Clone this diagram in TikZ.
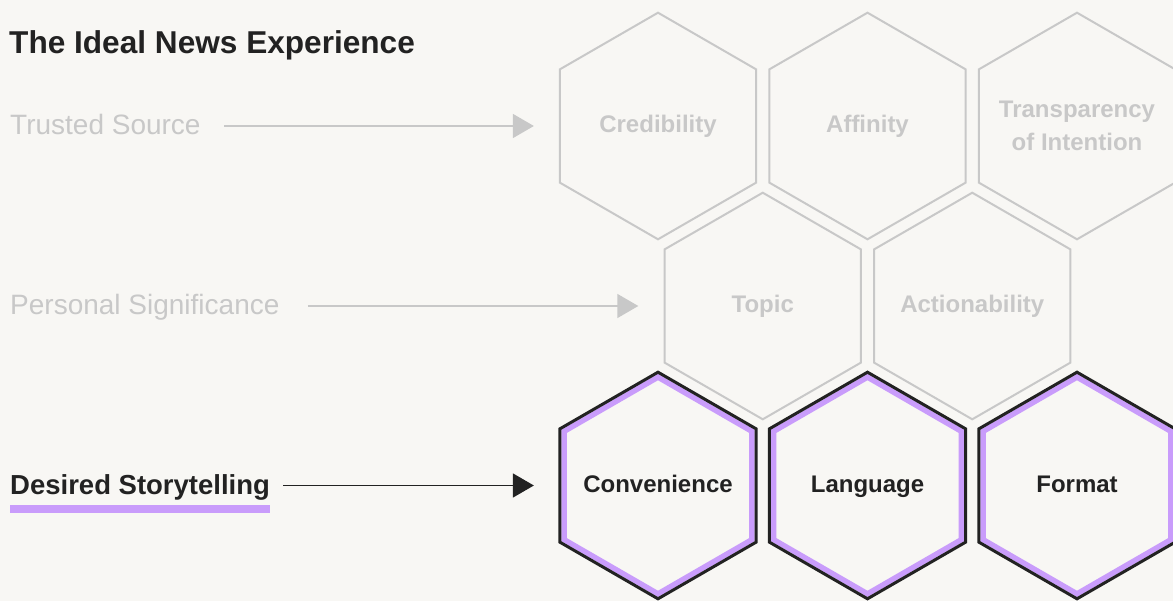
\documentclass[tikz,border=0pt]{standalone}
\usepackage{fontspec}
\setmainfont{Liberation Sans}
\usetikzlibrary{shapes.geometric,arrows.meta}
\definecolor{paper}{HTML}{F8F7F4}
\definecolor{faint}{HTML}{C8C8C8}
\definecolor{ink}{HTML}{222222}
\definecolor{lilac}{HTML}{C99CFB}
\begin{document}
\begin{tikzpicture}[x=1pt, y=-1pt,
  hex/.style={regular polygon, regular polygon sides=6, shape border rotate=30,
    minimum size=226.6pt, inner sep=0pt, outer sep=0pt},
  faded/.style={hex, draw=faint, line width=2pt},
  picked/.style={hex, draw=ink, line width=3pt},
  pickedin/.style={hex, draw=lilac, line width=5.5pt, minimum size=216.8pt},
  word/.style={inner sep=0pt, align=center, text height=14pt, text depth=0pt,
    font=\bfseries\fontsize{24}{32.3}\selectfont},
  row/.style={anchor=base west, inner sep=0pt, font=\fontsize{28}{34}\selectfont},
  link/.style={-{Triangle[length=21pt,width=24pt]}, line width=1.5pt}]
  % page
  \fill[paper] (0,0) rectangle (1173,601);
  \useasboundingbox (0,0) rectangle (1173,601);

  \node[anchor=base west, inner sep=0pt, text=ink,
        font=\bfseries\fontsize{31.6}{36}\selectfont] (title) at (9,54) {The Ideal News Experience};

  % row labels
  \node[row, text=faint] (trusted) at (10,135) {Trusted Source};
  \node[row, text=faint] (personal) at (10,315) {Personal Significance};
  \node[row, text=ink, font=\bfseries\fontsize{27.5}{33}\selectfont] (desired) at (10,494) {Desired Storytelling};
  \fill[lilac] ([yshift=-11pt]desired.base west) rectangle ([yshift=-18.7pt]desired.base east);

  % hexagons
  \node[faded] (cred) at (658,126) {};
  \node[faded] (affin) at (867.5,126) {};
  \node[faded] (transp) at (1077,126) {};
  \node[faded] (topic) at (762.75,306) {};
  \node[faded] (action) at (972.25,306) {};
  \node[word, text=faint] (cred-text) at (cred) {Credibility};
  \node[word, text=faint] (affin-text) at (affin) {Affinity};
  \node[word, text=faint, text height=, text depth=] (transp-text) at (transp) {Transparency\\of Intention};
  \node[word, text=faint] (topic-text) at (topic) {Topic};
  \node[word, text=faint] (action-text) at (action) {Actionability};
  \foreach \name/\x/\label in {conv/658/Convenience, lang/867.5/Language, form/1077/Format} {
    \node[pickedin] (\name-in) at (\x,485.5) {};
    \node[picked] (\name) at (\x,485.5) {};
    \node[word, text=ink] (\name-text) at (\name) {\label};
  }

  % arrows
  \coordinate (trusted-tail) at ([xshift=23.5pt]trusted.east);
  \coordinate (personal-tail) at ([xshift=28.3pt]personal.east);
  \coordinate (desired-tail) at ([xshift=13pt]desired.east);
  \draw[link, faint] (trusted-tail |- cred.center) -- ([xshift=-26pt]cred.west);
  \draw[link, faint] (personal-tail |- topic.center) -- ([xshift=-26.3pt]topic.west);
  \draw[link, ink] (desired-tail |- conv.center) -- ([xshift=-26pt]conv.west);
\end{tikzpicture}
\end{document}
